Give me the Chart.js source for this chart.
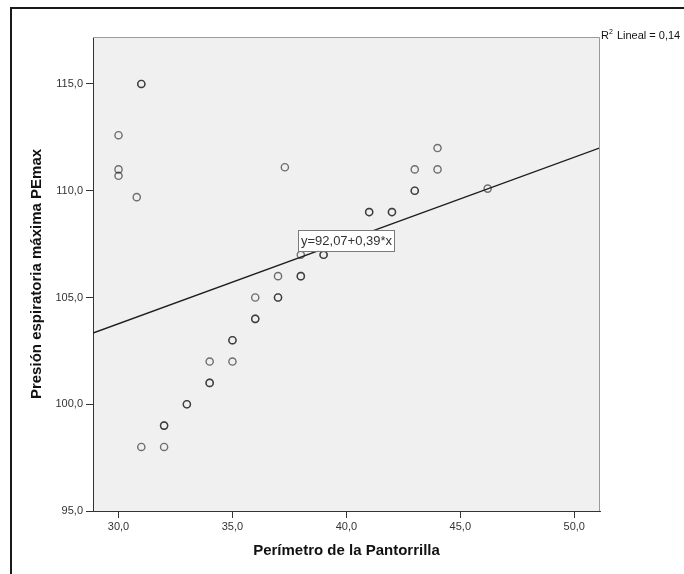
<!DOCTYPE html>
<html>
<head>
<meta charset="utf-8">
<script src="https://cdn.jsdelivr.net/npm/chart.js@4/dist/chart.umd.min.js"></script>
<style>
    html, body { margin: 0; background: #fff; }
    canvas { display: block; }
</style>
</head>
<body>
<canvas id="dispersion" width="684" height="574"></canvas>
<script>
// Perímetro de la pantorrilla (cm) y PEmax de cada caso; los repetidos se ven más oscuros
const perimetro = [
    30, 30, 30, 30.8, 31, 31, 31, 32, 32, 32,
    33, 33, 34, 34, 34, 35, 35, 35, 36, 36,
    36, 37, 37, 37, 37.3, 38, 38, 38, 39, 39,
    41, 41, 42, 42, 43, 43, 43, 44, 44, 46.2
];
const pemax = [
    112.6, 111.0, 110.7, 109.7, 115, 115, 98, 98, 99, 99,
    100, 100, 101, 101, 102, 102, 103, 103, 104, 104,
    105, 105, 105, 106, 111.1, 106, 106, 107, 107, 107,
    109, 109, 109, 109, 110, 110, 111, 111, 112, 110.1
];

// Recta de ajuste lineal
const interseccion = 92.07;
const pendiente = 0.39;
const r2Lineal = 0.14;

const xMin = 28.88, xMax = 51.13;
const yMin = 95, yMax = 117.2;
const paso = 5;

const coma = (v, d = 1) => v.toFixed(d).replace('.', ',');
const FUENTE = 'Arial, "Liberation Sans", sans-serif';

const puntos = perimetro.map((x, i) => ({ x, y: pemax[i] }));
const recta = [xMin, xMax].map(x => ({ x, y: interseccion + pendiente * x }));

// Fondo, marco exterior, borde del área y rótulos de la recta
const decorado = {
    id: 'decorado',
    beforeDraw(chart) {
        const { ctx, chartArea: a } = chart;
        ctx.save();
        ctx.fillStyle = '#fff';
        ctx.fillRect(0, 0, chart.width, chart.height);
        ctx.strokeStyle = '#1a1a1a';
        ctx.lineWidth = 2;
        ctx.beginPath();
        ctx.moveTo(11, chart.height);
        ctx.lineTo(11, 8);
        ctx.lineTo(chart.width, 8);
        ctx.stroke();
        ctx.fillStyle = '#f0f0f0';
        ctx.fillRect(a.left, a.top, a.right - a.left, a.bottom - a.top);
        ctx.restore();
    },
    afterDraw(chart) {
        const { ctx, chartArea: a, scales } = chart;
        ctx.save();
        ctx.strokeStyle = '#9a9a9a';
        ctx.lineWidth = 1;
        ctx.beginPath();
        ctx.moveTo(a.left, a.top + 0.5);
        ctx.lineTo(a.right - 0.5, a.top + 0.5);
        ctx.lineTo(a.right - 0.5, a.bottom);
        ctx.stroke();

        // Ecuación sobre la recta, en el centro del eje X
        const cx = (a.left + a.right) / 2;
        const xv = scales.x.getValueForPixel(cx);
        const cy = scales.y.getPixelForValue(interseccion + pendiente * xv);
        const texto = `y=${coma(interseccion, 2)}+${coma(pendiente, 2)}*x`;
        ctx.font = `13px ${FUENTE}`;
        const w = ctx.measureText(texto).width + 5;
        const h = 21;
        ctx.fillStyle = '#fff';
        ctx.fillRect(cx - w / 2, cy - h / 2, w, h);
        ctx.strokeStyle = '#7a7a7a';
        ctx.strokeRect(Math.round(cx - w / 2) + 0.5, Math.round(cy - h / 2) + 0.5, Math.round(w), h);
        ctx.fillStyle = '#333';
        ctx.textAlign = 'center';
        ctx.textBaseline = 'middle';
        ctx.fillText(texto, cx, cy + 1);

        // R² Lineal
        let x = a.right + 1;
        const base = a.top + 2;
        ctx.textAlign = 'left';
        ctx.textBaseline = 'alphabetic';
        ctx.fillStyle = '#111';
        ctx.font = `11px ${FUENTE}`;
        ctx.fillText('R', x, base);
        x += ctx.measureText('R').width;
        ctx.font = `7px ${FUENTE}`;
        ctx.fillText('2', x, base - 5);
        x += ctx.measureText('2').width + 1;
        ctx.font = `11px ${FUENTE}`;
        ctx.fillText(` Lineal = ${coma(r2Lineal, 2)}`, x, base);
        ctx.restore();
    }
};

new Chart(document.getElementById('dispersion'), {
    type: 'scatter',
    data: {
        datasets: [
            {
                type: 'line',
                data: recta,
                borderColor: '#1e1e1e',
                borderWidth: 1.4,
                pointRadius: 0,
                fill: false
            },
            {
                data: puntos,
                backgroundColor: 'rgba(0,0,0,0)',
                borderColor: 'rgba(30,30,30,0.62)',
                borderWidth: 1.4,
                pointRadius: 3.6,
                pointHoverRadius: 3.6
            }
        ]
    },
    options: {
        responsive: false,
        animation: false,
        events: [],
        layout: { padding: { top: 37, right: 84, left: 0, bottom: 0 } },
        plugins: { legend: { display: false }, tooltip: { enabled: false } },
        scales: {
            x: {
                type: 'linear',
                min: xMin,
                max: xMax,
                afterFit: s => { s.height = 63; },
                border: { color: '#333', width: 1 },
                grid: { drawOnChartArea: false, tickLength: 7, tickColor: '#333' },
                ticks: {
                    stepSize: paso,
                    includeBounds: false,
                    maxRotation: 0,
                    padding: 2,
                    color: '#333',
                    font: { family: FUENTE, size: 11 },
                    callback: v => coma(v)
                },
                title: {
                    display: true,
                    text: 'Perímetro de la Pantorrilla',
                    color: '#111',
                    font: { family: FUENTE, size: 15, weight: 'bold' },
                    padding: { bottom: 14 }
                }
            },
            y: {
                type: 'linear',
                min: yMin,
                max: yMax,
                afterFit: s => { s.width = 93; },
                border: { color: '#333', width: 1 },
                grid: { drawOnChartArea: false, tickLength: 7, tickColor: '#333' },
                ticks: {
                    stepSize: paso,
                    includeBounds: false,
                    padding: 3,
                    color: '#333',
                    font: { family: FUENTE, size: 11 },
                    callback: v => coma(v)
                },
                title: {
                    display: true,
                    text: 'Presión espiratoria máxima PEmax',
                    color: '#111',
                    font: { family: FUENTE, size: 15, weight: 'bold' },
                    padding: { top: 28 }
                }
            }
        }
    },
    plugins: [decorado]
});
</script>
</body>
</html>
